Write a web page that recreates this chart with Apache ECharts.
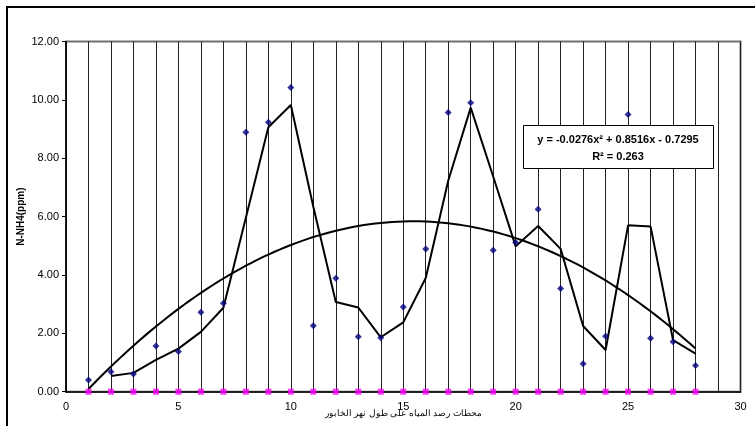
<!DOCTYPE html>
<html><head><meta charset="utf-8">
<script src="https://cdn.jsdelivr.net/npm/echarts@6/dist/echarts.min.js"></script>
<style>html,body{margin:0;padding:0;background:#fff}#c{width:755px;height:426px}</style>
</head><body><div id="c"></div>
<script>
const stations = [1,2,3,4,5,6,7,8,9,10,11,12,13,14,15,16,17,18,19,20,21,22,23,24,25,26,27,28];
const nh4 = [0.40,0.68,0.61,1.57,1.38,2.72,3.03,8.89,9.23,10.42,2.26,3.89,1.88,1.85,2.90,4.89,9.57,9.90,4.85,5.11,6.25,3.54,0.96,1.90,9.50,1.83,1.71,0.90];
const baseline = [0,0,0,0,0,0,0,0,0,0,0,0,0,0,0,0,0,0,0,0,0,0,0,0,0,0,0,0];
const polyCoef = [-0.7295, 0.8516, -0.0276]; // c0 + c1 x + c2 x^2 (from chart equation)
const eqText = 'y = -0.0276x² + 0.8516x - 0.7295';
const r2Text = 'R² = 0.263';
const xTitle = 'محطات رصد المياه على طول نهر الخابور';
const yTitle = 'N-NH4(ppm)';

// 2-period moving average (Excel trendline)
const ma = [];
for (let i = 1; i < nh4.length; i++) ma.push([stations[i], (nh4[i-1] + nh4[i]) / 2]);
// polynomial trendline from displayed equation
const poly = [];
for (let x = stations[0]; x <= stations[stations.length-1] + 1e-9; x += 0.25)
  poly.push([x, polyCoef[0] + polyCoef[1]*x + polyCoef[2]*x*x]);

const F = 'Liberation Sans, Arial, sans-serif';
const chart = echarts.init(document.getElementById('c'));
chart.setOption({
  animation: false,
  backgroundColor: '#fff',
  textStyle: {fontFamily: F},
  grid: {left: 66, right: 14.5, top: 41.5, bottom: 34.3, show: true, borderColor: '#707070', borderWidth: 2,
         containLabel: false, outerBoundsMode: 'none'},
  xAxis: {
    type: 'value', min: 0, max: 30, interval: 5,
    name: xTitle, nameLocation: 'middle', nameGap: 17, nameMoveOverlap: false,
    nameTextStyle: {fontSize: 9, color: '#000', fontFamily: F},
    axisLine: {show: true, onZero: false, lineStyle: {color: '#000', width: 1.5}},
    axisTick: {show: false},
    axisLabel: {color: '#000', fontSize: 11, margin: 10, fontFamily: F},
    splitLine: {show: true, lineStyle: {color: '#222', width: 1}},
    minorTick: {show: false, splitNumber: 5},
    minorSplitLine: {show: true, lineStyle: {color: '#222', width: 1}}
  },
  yAxis: {
    type: 'value', min: 0, max: 12, interval: 2,
    name: yTitle, nameLocation: 'middle', nameGap: 40, nameRotate: 90, nameMoveOverlap: false,
    nameTextStyle: {fontSize: 10, fontWeight: 'bold', color: '#000', fontFamily: F},
    axisLine: {show: true, lineStyle: {color: '#000', width: 1.5}},
    axisTick: {show: true, inside: false, length: 4, lineStyle: {color: '#000'}},
    axisLabel: {color: '#000', fontSize: 11, margin: 7, fontFamily: F, formatter: v => v.toFixed(2)},
    splitLine: {show: false}
  },
  series: [
    {type: 'line', data: poly, showSymbol: false, symbol: 'none', lineStyle: {color: '#000', width: 2}, z: 3},
    {type: 'line', data: ma, showSymbol: false, symbol: 'none', lineStyle: {color: '#000', width: 2}, z: 3},
    {type: 'scatter', data: stations.map((x,i) => [x, nh4[i]]), symbol: 'diamond', symbolSize: 7, itemStyle: {color: '#000080'}, z: 4},
    {type: 'scatter', data: stations.map((x,i) => [x, baseline[i]]), symbol: 'rect', symbolSize: 6, itemStyle: {color: '#FF00FF'}, z: 5}
  ],
  graphic: [
    {type: 'rect', shape: {x: 7, y: 7, width: 800, height: 500}, style: {fill: 'none', stroke: '#000', lineWidth: 2}, z: 100},
    {type: 'rect', shape: {x: 523.5, y: 125.5, width: 190, height: 43}, style: {fill: '#fff', stroke: '#000', lineWidth: 1}, z: 100},
    {type: 'text', x: 618, y: 140, style: {text: eqText, font: 'bold 11px ' + F, fill: '#000', textAlign: 'center', textVerticalAlign: 'middle'}, z: 101},
    {type: 'text', x: 618, y: 157, style: {text: r2Text, font: 'bold 11px ' + F, fill: '#000', textAlign: 'center', textVerticalAlign: 'middle'}, z: 101}
  ]
});
</script>
</body></html>
